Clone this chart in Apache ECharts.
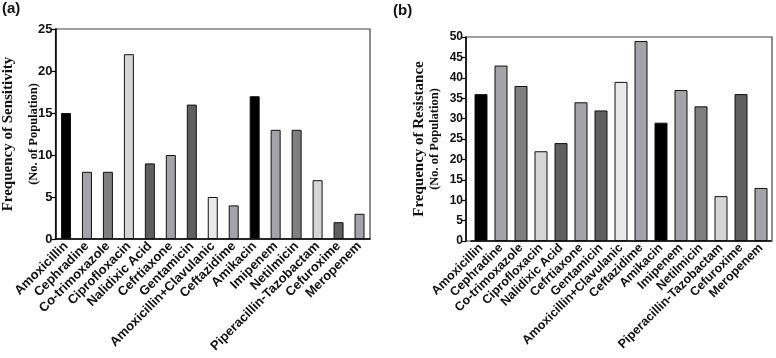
<!DOCTYPE html>
<html>
<head>
<meta charset="utf-8">
<script src="https://cdn.jsdelivr.net/npm/echarts@6/dist/echarts.min.js"></script>
<style>
  html, body { margin: 0; padding: 0; background: #fff; }
  #chart { width: 776px; height: 358px; }
</style>
</head>
<body>
<div id="chart"></div>
<script>
// antibiotics, same order in both panels
var categories = [
  'Amoxicillin', 'Cephradine', 'Co-trimoxazole', 'Ciprofloxacin', 'Nalidixic Acid',
  'Cefrtiaxone', 'Gentamicin', 'Amoxicillin+Clavulanic', 'Ceftazidime', 'Amikacin',
  'Imipenem', 'Netilmicin', 'Piperacillin-Tazobactam', 'Cefuroxime', 'Meropenem'
];
var sensitivity = [15, 8, 8, 22, 9, 10, 16, 5, 4, 17, 13, 13, 7, 2, 3];
var resistance = [36, 43, 38, 22, 24, 34, 32, 39, 49, 29, 37, 33, 11, 36, 13];

// grey fill of each bar (same pattern in both panels)
var shades = ['#000000', '#a3a3a9', '#7f7f7f', '#d5d5d5', '#5f5f5f', '#a3a3a9', '#5f5f5f',
  '#e9e9e9', '#a3a3a9', '#000000', '#a3a3a9', '#7f7f7f', '#d5d5d5', '#5f5f5f', '#a3a3a9'];

var sans = 'Arial, "Liberation Sans", sans-serif';
var serif = '"Times New Roman", "Liberation Serif", serif';

var myChart = echarts.init(document.getElementById('chart'));

function catAxis(grid, size) {
  return {
    type: 'category',
    gridIndex: grid,
    data: categories,
    axisLine: { lineStyle: { color: '#000', width: 1.5 } },
    axisTick: { alignWithLabel: true, length: 4, lineStyle: { color: '#000', width: 1.2 } },
    axisLabel: {
      interval: 0, rotate: 45, margin: 5,
      fontFamily: sans, fontWeight: 'bold', fontSize: size, color: '#111'
    }
  };
}

// lh1 / lh2: line heights of the two name lines (spread them apart)
function valAxis(grid, max, title, gap, size, offset, lh1, lh2) {
  return {
    type: 'value',
    gridIndex: grid,
    min: 0, max: max, interval: 5,
    offset: offset,
    splitLine: { show: false },
    axisLine: { show: true, lineStyle: { color: '#000', width: 1.5 } },
    axisTick: { show: true, length: 4, lineStyle: { color: '#000', width: 1.2 } },
    axisLabel: { margin: 3, fontFamily: sans, fontWeight: 'bold', fontSize: size, color: '#111' },
    name: '{t|' + title + '}\n{s|(No. of Population)}',
    nameLocation: 'middle',
    nameGap: gap,
    nameMoveOverlap: false,
    nameTextStyle: {
      rich: {
        t: { fontFamily: serif, fontWeight: 'bold', fontSize: 15, lineHeight: lh1, color: '#111' },
        s: { fontFamily: serif, fontWeight: 'bold', fontSize: 12.5, lineHeight: lh2, color: '#111' }
      }
    }
  };
}

var option = {
  animation: false,
  title: [
    { text: '(a)', left: 2, top: 1, padding: 0, textStyle: { fontFamily: sans, fontWeight: 'bold', fontSize: 15, color: '#111' } },
    { text: '(b)', left: 393, top: 3, padding: 0, textStyle: { fontFamily: sans, fontWeight: 'bold', fontSize: 15, color: '#111' } }
  ],
  grid: [
    { left: 55, top: 29, width: 315, height: 210, show: true, borderColor: '#444', borderWidth: 1.2 },
    { left: 471, top: 37, width: 300, height: 204 },
    // frame of panel (b), a little wider than its bars
    { left: 466, top: 37, width: 306, height: 204, show: true, borderColor: '#444', borderWidth: 1.2 }
  ],
  xAxis: [
    catAxis(0, 13),
    catAxis(1, 12.5),
    { type: 'value', gridIndex: 2, show: false }
  ],
  yAxis: [
    valAxis(0, 25, 'Frequency of Sensitivity', 14, 13, 0, 34, 16),
    valAxis(1, 50, 'Frequency of Resistance', 23, 12, 5, 16, 16),
    { type: 'value', gridIndex: 2, show: false }
  ],
  series: [
    {
      type: 'bar', xAxisIndex: 0, yAxisIndex: 0,
      data: sensitivity, barWidth: 10,
      itemStyle: {
        color: function (p) { return shades[p.dataIndex]; },
        borderColor: '#111', borderWidth: 1
      }
    },
    {
      type: 'bar', xAxisIndex: 1, yAxisIndex: 1,
      data: resistance, barWidth: 13,
      itemStyle: {
        color: function (p) { return shades[p.dataIndex]; },
        borderColor: '#111', borderWidth: 1
      }
    }
  ]
};

myChart.setOption(option);
</script>
</body>
</html>
